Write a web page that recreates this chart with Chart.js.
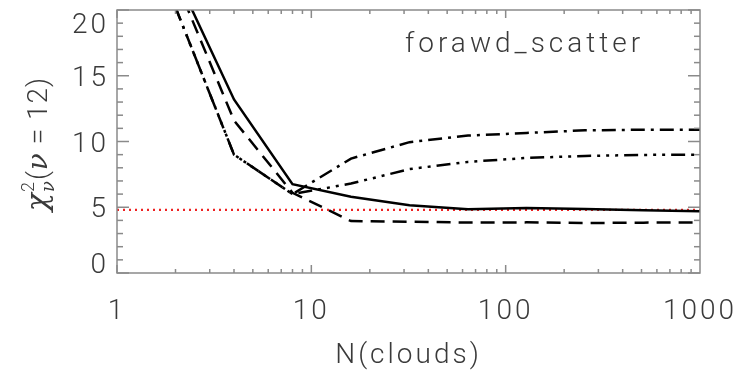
<!DOCTYPE html>
<html>
<head>
<meta charset="utf-8">
<script src="https://cdn.jsdelivr.net/npm/chart.js@4.4.0/dist/chart.umd.min.js"></script>
<style>
  html, body { margin: 0; padding: 0; background: #fff; }
</style>
</head>
<body>
<canvas id="chart" width="756" height="375"></canvas>
<script>
// N(clouds) sampling and chi^2 curves
const nClouds = [2, 4, 8, 16, 32, 64, 128, 256, 512, 1024];
const chiSolid = [22.7, 13.2, 6.75, 5.8, 5.15, 4.85, 4.95, 4.87, 4.77, 4.7];
const chiDashed = [22.3, 11.6, 6.1, 3.95, 3.9, 3.84, 3.85, 3.8, 3.83, 3.85];
const chiDashDot = [20.2, 9.0, 6.0, 8.7, 9.95, 10.45, 10.65, 10.85, 10.9, 10.9];
const chiDashDot3 = [20.2, 9.0, 6.0, 6.8, 7.9, 8.45, 8.75, 8.9, 8.98, 9.0];
const refX = [1, 1000];
const refY = [4.8, 4.8];

const xTicks = [1, 10, 100, 1000];
const yTicks = [0, 5, 10, 15, 20];
const annotation = "forawd_scatter";

const FONT = "Roboto";
const TEXT = "#3a3a3a";
const AXIS = "#8a8a8a";

function pts(xs, ys) {
  return xs.map((x, i) => ({ x, y: ys[i] }));
}

function curve(data, dash) {
  return {
    data,
    borderColor: "#000",
    borderWidth: 2.5,
    borderDash: dash,
    pointRadius: 0,
    tension: 0,
    fill: false
  };
}

function line(ctx, x1, y1, x2, y2) {
  ctx.beginPath();
  ctx.moveTo(x1, y1);
  ctx.lineTo(x2, y2);
  ctx.stroke();
}

// IDL-like box: inward ticks on all four sides, y labels, y title, note
const idlFrame = {
  id: "idlFrame",
  beforeDraw(chart) {
    chart.ctx.letterSpacing = "3px";
  },
  afterDraw(chart) {
    const { ctx, chartArea: a, scales: { x, y } } = chart;
    ctx.save();
    ctx.letterSpacing = "0px";
    ctx.strokeStyle = AXIS;
    ctx.lineWidth = 1.5;
    ctx.strokeRect(a.left, a.top, a.right - a.left, a.bottom - a.top);

    for (let v = y.min; v <= y.max; v++) {
      const py = y.getPixelForValue(v);
      const len = v % 5 === 0 ? 12 : 6;
      line(ctx, a.left, py, a.left + len, py);
      line(ctx, a.right, py, a.right - len, py);
    }
    for (let d = 1; d < x.max; d *= 10) {
      for (let m = 1; m < 10; m++) {
        const px = x.getPixelForValue(d * m);
        const len = m === 1 ? 8 : 4;
        line(ctx, px, a.bottom, px, a.bottom - len);
        line(ctx, px, a.top, px, a.top + len);
      }
    }

    // y tick labels, kept inside the box like IDL does
    ctx.fillStyle = TEXT;
    ctx.font = "300 28px " + FONT;
    ctx.letterSpacing = "3px";
    ctx.textAlign = "right";
    ctx.textBaseline = "alphabetic";
    yTicks.forEach(v => {
      let py = y.getPixelForValue(v) + 10;
      py = Math.max(a.top + 23, Math.min(a.bottom, py));
      ctx.fillText(String(v), a.left - 8, py);
    });

    // annotation
    ctx.letterSpacing = "4px";
    ctx.textAlign = "left";
    ctx.fillText(annotation, 405, 52);

    // y title: chi^2_nu (nu = 12), rotated
    ctx.letterSpacing = "1px";
    const parts = [
      { t: "\u03c7", f: "italic 30px 'DejaVu Serif'", dy: 0 },
      { t: "2", f: "300 18px " + FONT, dy: -13, sup: true },
      { t: "\u03bd", f: "italic 18px 'DejaVu Serif'", dy: 7, sub: true },
      { t: "(", f: "300 28px " + FONT, dy: 0 },
      { t: "\u03bd", f: "italic 28px 'DejaVu Serif'", dy: 0 },
      { t: " = ", f: "300 28px " + FONT, dy: 0 },
      { t: "12", f: "300 28px " + FONT, dy: 0 },
      { t: ")", f: "300 28px " + FONT, dy: 0 }
    ];
    let total = 0;
    parts.forEach(p => {
      ctx.font = p.f;
      p.w = ctx.measureText(p.t).width;
    });
    parts.forEach((p, i) => {
      if (p.sup) return;
      if (p.sub) total += Math.max(p.w, parts[i - 1].w);
      else total += p.w;
    });
    ctx.translate(47, 144);
    ctx.rotate(-Math.PI / 2);
    let cx = -total / 2;
    parts.forEach((p, i) => {
      ctx.font = p.f;
      ctx.fillText(p.t, cx, p.dy);
      if (p.sup) return;
      if (p.sub) cx += Math.max(p.w, parts[i - 1].w);
      else cx += p.w;
    });
    ctx.restore();
  }
};

new Chart(document.getElementById("chart"), {
  type: "line",
  data: {
    datasets: [
      curve(pts(nClouds, chiSolid), []),
      curve(pts(nClouds, chiDashed), [14, 8]),
      curve(pts(nClouds, chiDashDot), [14, 6, 3, 6]),
      curve(pts(nClouds, chiDashDot3), [14, 6, 3, 6, 3, 6, 3, 6]),
      {
        data: pts(refX, refY),
        borderColor: "#ee2222",
        borderWidth: 2.2,
        borderDash: [2, 4],
        pointRadius: 0,
        fill: false
      }
    ]
  },
  options: {
    responsive: false,
    animation: false,
    layout: { padding: { top: 10, right: 56, left: 0, bottom: 0 } },
    plugins: {
      legend: { display: false },
      tooltip: { enabled: false }
    },
    scales: {
      x: {
        type: "logarithmic",
        min: 1,
        max: 1000,
        grid: { display: false, drawTicks: false },
        border: { display: false },
        afterBuildTicks: s => { s.ticks = xTicks.map(v => ({ value: v })); },
        afterFit: s => { s.height = 102; },
        ticks: {
          autoSkip: false,
          maxRotation: 0,
          padding: 22,
          color: TEXT,
          font: { family: FONT, size: 28, weight: 300 },
          callback: v => String(v)
        },
        title: {
          display: true,
          text: "N(clouds)",
          color: TEXT,
          font: { family: FONT, size: 28, weight: 300 },
          padding: { top: 0, bottom: 2 }
        }
      },
      y: {
        type: "linear",
        min: 0,
        max: 20,
        grid: { display: false, drawTicks: false },
        border: { display: false },
        ticks: { display: false },
        afterFit: s => { s.width = 117; }
      }
    }
  },
  plugins: [idlFrame]
});
</script>
</body>
</html>
